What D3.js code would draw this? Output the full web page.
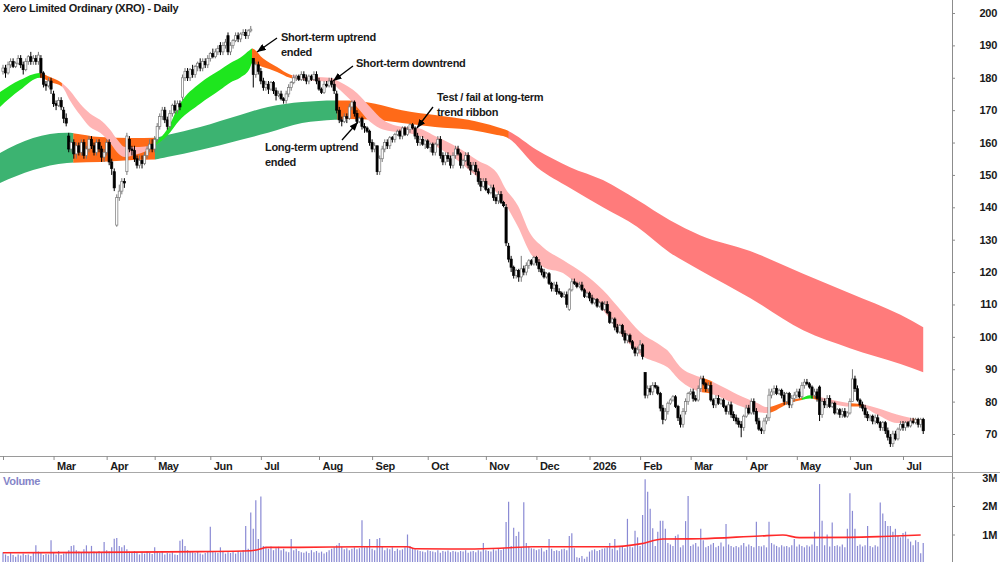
<!DOCTYPE html>
<html><head><meta charset="utf-8">
<script src="https://cdn.jsdelivr.net/npm/d3@7"></script>
<style>html,body{margin:0;padding:0;background:#fff;}svg text{font-family:"Liberation Sans",Arial,sans-serif;font-weight:bold;letter-spacing:-0.3px;}</style>
</head><body><svg id="chart" width="1000" height="562"></svg>
<script>
const title = "Xero Limited Ordinary (XRO) - Daily";
const monthLabels = ["","Mar","Apr","May","Jun","Jul","Aug","Sep","Oct","Nov","Dec","2026","Feb","Mar","Apr","May","Jun","Jul"];
const monthStart = [0,20,41,60,82,102,125,146,168,191,211,232,252,272,294,314,335,356];
const priceTicks = [70,80,90,100,110,120,130,140,150,160,170,180,190,200];
const volumeTicks = [1,2,3];
const volumeTickLabels = ["1M","2M","3M"];

const open = [
182,183,181.5,184,185,183.5,184.5,186,184,182.5,185,186.5,185,186,185,186,181.5,178,177.5,179,
175,172,171.5,173,170,167.5,162,158,160,156.5,159,157,160,156,158,161,159,157,160,158,
155.5,157,160,154,151,134.5,143,145,148,151,161,158,157.5,155,153,154.5,153.5,156,158,159.5,
158,161,165,168,170,167,165,169,171.5,170,172,174,180,182,180,182.5,181,183.5,184.5,183,
185,184,186,187.5,186.5,188,190,188,190,193,188,190,191.5,193,192,193.5,194,193,194.5,186,
181,184,182,179,177,178,176.5,178.5,176,174.5,175,173.5,173,175,177,178.5,180,180.5,179.5,181,
180,179,180.5,179.5,181,179,176.5,175.5,178,177.5,179,178,175,170,167,166.5,168,167.5,171,172.5,
169,166.5,167.5,165,164.5,163.5,160,158,159,151,155,158,160,159,161.5,161,162.5,163.5,162,164.5,
162.5,164,165.5,164.5,162,160,161,159.5,160.5,158.5,159.5,157,159.5,161,156,154,156,155,153,156,
158,156.5,153,154.5,156,153,151.5,153,151,148,146.5,148,145.5,144.5,146,143,142,144,141.5,140,
128,124,121.5,119,120.5,118.5,121,120,122,123.5,122.5,124.5,123,121,120,118.5,119.5,116.5,115,116,
114,113.5,112.5,113,108.5,114.5,117,116.5,115.5,116,114.5,112.5,113.5,112,110.5,111.5,109.5,110.5,108.5,110,
107.5,104.5,105.5,103,101.5,103.5,101,99,100.5,98.5,96.5,95,96,97.5,89,82,84,83,85,84.5,
82.5,78,74.5,77,79.5,80.5,81.5,78.5,75,73,77,80,82.5,83,81,80.5,84,87,85.5,84,
85,80.5,79,81,79.5,80.5,78.5,77,79,76,75,74,73,72,75.5,78,76.5,80,77,74,
71.5,71,74,75,82,83,84,82.5,83.5,82,80,82.5,79,81,82,83,81.5,85,86,85.5,
84.5,82,83,84.5,76,80,79,81,78.5,79.5,76.5,77.5,76,77,75.5,76.5,80,87,84,80.5,
79,78,76,75,75.5,74,75,73.5,72,73.5,71,69,67,70,68.5,71.5,73,72,73.5,72.5,
74,73.5,74.5,73,74.5];
const high = [
184,184,185,186,186,185,187,187,185,186,187,188,187,187,188,187,182,179,180,180,
176,173,174,174,171,169,163,161,161,160,160,161,161,159,162,162,160,161,161,159,
158,161,161,155,152,144,147,149,149,163,162,159,159,156,156,156,157,159,161,161,
162,166,169,171,171,168,170,172,173,173,173,181,183,183,183,184,184,185,186,186,
186,187,188,189,189,190,191,191,192,194,191,192,194,194,194,195,195,195,196,186,
185,185,183,180,179,179,179,179,177,176,176,174,176,178,179,181,181,181,182,182,
181,181,181,182,182,180,177,179,179,180,180,179,176,171,168,169,169,172,173,173,
170,168,168,166,165,164,161,160,159,156,159,161,161,162,162,163,164,164,165,165,
165,166,166,165,163,162,162,161,161,160,160,160,162,162,157,157,157,156,157,159,
159,157,155,157,157,154,154,154,152,149,149,149,146,147,147,144,145,145,142,141,
129,125,122,121,121,125,122,123,124,124,125,125,124,122,121,120,120,117,117,117,
115,114,114,114,115,118,118,117,117,117,115,114,114,113,112,112,111,111,111,111,
108,106,106,104,104,104,102,101,101,99,97,97,99,98,89,85,85,86,86,85,
83,79,78,80,81,82,82,79,76,78,81,83,84,84,82,85,88,88,86,86,
86,81,82,82,81,81,79,80,80,77,76,75,74,76,79,79,81,81,78,75,
72,75,76,84,84,85,85,84,84,83,83,83,82,83,84,84,86,87,87,86,
85,84,84,85,81,81,82,82,80,80,78,78,78,78,77,81,90,88,85,81,
80,79,77,76,76,76,76,74,74,74,72,70,71,71,72,74,74,74,74,75,
75,75,75,75,75];
const low = [
181,180,181,183,183,183,184,183,181,182,184,184,184,184,184,180,177,176,177,175,
171,170,171,170,166,165,157,157,155,155,156,156,155,155,157,158,156,156,157,154,
154,156,153,150,145,134,142,144,146,150,157,156,154,152,152,152,153,155,157,157,
157,160,164,167,166,164,164,168,169,169,170,173,179,179,179,180,180,182,182,182,
183,183,185,186,186,187,187,187,189,187,187,189,191,191,191,193,192,192,194,177,
180,181,178,176,176,175,176,175,173,174,173,172,172,174,176,178,179,179,179,179,
178,178,179,179,178,176,175,175,177,177,177,175,169,166,165,166,166,167,170,168,
166,166,164,163,163,159,157,157,150,150,154,157,158,158,160,160,162,161,161,162,
162,163,164,161,159,159,159,158,158,157,156,156,159,155,153,153,154,152,152,155,
156,152,152,154,152,150,151,150,147,145,146,145,144,144,142,141,141,141,140,128,
123,120,118,118,117,117,119,119,121,122,122,122,120,119,118,118,116,114,114,113,
113,112,112,109,108,114,116,115,115,114,112,112,111,110,110,109,109,108,108,107,
104,104,102,101,101,100,98,98,98,96,94,94,95,93,81,81,82,82,84,82,
77,73,74,76,79,80,78,74,72,72,76,79,82,80,80,80,83,85,83,83,
80,78,78,79,79,78,76,76,75,74,73,72,69,71,75,76,76,76,73,71,
70,70,73,74,81,82,82,82,81,79,79,78,78,80,81,81,81,84,85,84,
81,81,80,74,75,78,78,78,78,76,76,75,75,75,75,76,80,83,80,78,
77,75,74,74,73,73,73,71,71,70,68,66,66,68,68,71,71,71,72,72,
73,73,72,72,70];
const close = [
183,181.5,184,185,183.5,184.5,186,184,182.5,185,186.5,185,186,185,187,181.5,178,177.5,179,176.5,
172,171.5,173,171,167.5,166,158,160,156.5,159,157,160,156,158,161,159,157,160,158,155.5,
157,160,154,152,146,143,145,148,147.5,162,158,157.5,155,153,154.5,153.5,156,158,159.5,158,
161,165,168,170,167,165,169,171.5,170,172,171,180,182,180,182.5,181,183.5,184.5,183,185,
184,186,187.5,186.5,188,189,188,190,191,188,190,191.5,193,192,193.5,194,193,194.5,195,181,
184,182,179,177,178,176.5,178.5,176,174.5,175,173.5,173,175,177,178.5,180,180.5,179.5,181,180,
179,180.5,179.5,181,179,176.5,175.5,178,177.5,179,178,176,170,167,166.5,168,167.5,171,172.5,169,
166.5,167.5,165,164.5,163.5,160,158,159,151,155,158,160,159,161.5,161,162.5,163.5,162,164.5,162.5,
164,165.5,164.5,162,160,161,159.5,160.5,158.5,159.5,157,159.5,161,156,154,156,155,153,156,158,
156.5,153,154.5,156,153,151.5,153,151,148,146.5,148,145.5,144.5,146,143,142,144,141.5,140.5,129,
124,121.5,119,120.5,118.5,121,120,122,123.5,122.5,124.5,123,121,120,118.5,119.5,116.5,115,116,114,
113.5,112.5,113,110,114.5,117,116.5,115.5,116,114.5,112.5,113.5,112,110.5,111.5,109.5,110.5,108.5,110,107.5,
104.5,105.5,103,101.5,103.5,101,99,100.5,98.5,96.5,95,96,97.5,94,82,84,83,85,84.5,82.5,
78,74.5,77,79.5,80.5,81.5,78.5,75,73,77,80,82.5,83,81,80.5,84,87,85.5,84,85,
80.5,79,81,79.5,80.5,78.5,77,79,76,75,74,73,72,75.5,78,76.5,80,77,74,71.5,
71,74,75,82,83,84,82.5,83.5,82,80,82.5,79,81,82,83,81.5,85,86,85.5,84.5,
82,83,81,76,80,79,81,78.5,79.5,76.5,77.5,76,77,75.5,76.5,80,87,84,80.5,79,
78,76,75,75.5,74,75,73.5,72,73.5,71,69,67,70,68.5,71.5,73,72,73.5,72.5,74,
73.5,74.5,73,74.5,71];
// volume in hundredths of a million shares
const volume = [
38,30,25,35,28,22,30,26,33,28,30,25,35,62,40,36,28,32,30,80,
35,30,42,28,33,38,45,60,62,45,40,35,48,62,38,60,40,35,42,38,
74,45,40,55,85,88,60,55,62,48,40,35,42,38,30,36,33,40,35,32,
55,40,36,42,30,35,33,38,30,28,78,83,60,45,40,38,35,42,33,30,
35,40,127,42,38,36,55,40,33,38,35,40,33,42,38,45,130,50,177,120,
220,84,233,60,55,50,58,45,52,57,45,50,40,38,84,45,50,42,38,36,
40,35,45,38,42,36,40,33,38,45,50,55,62,70,57,48,52,45,50,55,
48,52,150,55,60,84,50,45,84,88,60,45,52,48,55,42,50,45,48,55,
100,60,52,48,45,42,40,38,45,42,40,38,45,36,42,40,44,38,42,40,
38,42,40,45,36,40,42,38,45,40,70,45,42,40,48,44,50,46,52,144,
215,60,124,95,110,55,213,70,58,52,50,45,48,52,40,46,84,50,42,45,
42,48,50,45,95,104,52,20,18,25,15,22,40,45,48,42,46,50,52,55,
70,50,84,45,55,60,52,155,58,55,113,90,60,168,294,250,190,122,60,110,
148,148,120,70,65,60,95,100,55,62,147,235,60,65,70,58,120,80,55,60,
65,70,55,60,72,58,137,65,60,55,60,55,62,70,58,65,60,55,145,60,
58,62,55,145,70,65,60,55,62,58,60,55,62,84,58,65,60,55,62,58,
65,110,60,277,148,62,100,58,142,60,62,58,65,55,120,245,183,120,60,65,
58,62,130,60,55,62,58,212,174,147,130,130,110,120,95,90,105,110,85,75,
62,80,74,34,70];
// volume moving average: [day index, millions]
const volumeAvg = [[0,0.36],[51,0.38],[78,0.4],[98,0.43],[102,0.5],[104,0.55],[117,0.55],[141,0.57],[160,0.57],[163,0.5],[177,0.49],[196.6,0.52],[209.6,0.57],[240,0.57],[252,0.67],[261,0.84],[275.7,0.85],[299.4,0.95],[308.5,0.98],[315,0.89],[335,0.9],[348,0.93],[363,0.98]];
// short-term trend ribbon: [day index, upper, lower]
const shortRibbon = [[-1.2,175.6,171],[6.7,179.3,176.2],[14.6,181.5,180],[18.6,180.2,178.7],[23.3,178.4,177.3],[26.5,176,173],[30.5,172,168.5],[34.4,169,164.8],[38.4,167,163],[42.3,164,160],[45.1,161,157],[48.3,158.6,155.5],[51.4,158.6,156],[56.2,158.8,157.2],[60.1,160,159],[64.9,164,162],[70,172,167],[78,178.4,172],[85.8,182.4,176.2],[89.8,184.5,178.5],[93.8,186.2,180],[97.7,188.6,183],[98.5,189,184.5],[102.8,186,183.3],[108.4,183.3,181.8],[113.5,181,180],[117.5,180.5,179.5],[129.4,180,178.7],[133.3,178.7,176.2],[140,175.3,171],[145.2,171,166.4],[150.3,167,164],[158.2,164.8,163],[163.8,164.5,162.3],[171.7,161.7,158.6],[179.6,158.6,154.6],[187.5,154.6,149.4],[195.4,150.6,144.4],[198.6,146,141],[203.7,140.5,134],[208.5,132,126],[213.6,127.7,121.6],[221.5,123.7,119.7],[229.4,119.7,114.5],[237.3,114.5,108.3],[245.3,107.4,100],[252,101.5,94.5],[259.9,97.5,91.8],[262.7,95.9,90.7],[267.8,90.8,86.5],[275.7,87.6,83],[279.7,86.5,82.5],[284.8,84.5,81],[292.7,81.4,78.3],[298.3,79.6,76.8],[302.2,78.3,76.5],[311.3,80.5,79.6],[316,81.2,80.5],[319.2,82,81],[323.2,81.4,80.3],[335,79.5,78.5],[339,79.3,78.5],[345.7,78,76],[353.6,76,73.4],[358.8,75,73.4],[364,74.3,73.4]];
// short-term trend state by day range: [from, to, state]
const shortTrend = [[-1.2,14.6,"up"],[14.6,23.3,"flat"],[23.3,60.1,"down"],[60.1,98.5,"up"],[98.5,114.3,"flat"],[114.3,276.5,"down"],[276.5,280.5,"flat"],[280.5,302.6,"down"],[302.6,316,"flat"],[316,320.4,"up"],[320.4,323.2,"flat"],[323.2,335,"down"],[335,340.2,"flat"],[340.2,360,"down"],[360,364.5,"flat"]];
// long-term trend ribbon: [day index, upper, lower]
const longRibbon = [[-1.2,156.8,147.5],[11.9,161.4,151.5],[25.3,163,153.7],[38.4,161.7,154],[51.4,161.4,154.6],[60.1,161.5,154.8],[64.9,162.3,155.5],[78,164.8,157.7],[93.8,168.5,160.8],[104.8,171,163],[118.3,172.5,166],[131.3,173,167],[136.5,173,167.3],[147.2,172,167],[157.8,170,166],[170.9,168.5,164.8],[184,167,164],[195.4,164.8,162.3],[198.6,164,161.8],[211.2,157.7,152.4],[224.3,152.4,146],[237.3,148.4,140],[250.8,142.3,134],[263.8,136,126],[275.7,131.4,120.6],[295.5,126.5,112],[316.5,119.5,102],[335,113.5,96.5],[355,106.8,91.6],[364,103,89.1]];
const longTrend = [[-1.2,27.8,"up"],[27.8,60.1,"flat"],[60.1,132.3,"up"],[132.3,200,"flat"],[200,364.5,"down"]];
const annotations = [
  {lines:["Short-term uptrend","ended"], tx:281, ty:41, from:[277,38], to:[257,52]},
  {lines:["Short-term downtrend"], tx:356, ty:67, from:[353,66], to:[333,81]},
  {lines:["Test / fail at long-term","trend ribbon"], tx:437, ty:101, from:[433,107], to:[417,128]},
  {lines:["Long-term uptrend","ended"], tx:265, ty:151, from:[342,140], to:[358,122]}
];

const svg = d3.select("#chart");
svg.append("rect").attr("width",1000).attr("height",562).attr("fill","#fff");
const defs = svg.append("defs");
const PR = 952, PB = 456;
const x = d3.scaleLinear().domain([0,356]).range([3,903]);
const y = d3.scaleLinear().domain([70,200]).range([434,13]);
const yv = d3.scaleLinear().domain([0,3]).range([563,477.5]);

defs.append("clipPath").attr("id","pclip").append("rect").attr("x",0).attr("y",0).attr("width",PR).attr("height",PB);
defs.append("clipPath").attr("id","vclip").append("rect").attr("x",0).attr("y",473).attr("width",PR).attr("height",90);

const plot = svg.append("g").attr("clip-path","url(#pclip)");
const shortColors = {up:"#1ee61e", flat:"#ff6a18", down:"#ffb4b4"};
const longColors = {up:"#3cb371", flat:"#ff6a18", down:"#ff7b7b"};
let cid = 0;
function ribbon(samples, trend, colors){
  const area = d3.area().x(d=>x(d[0])).y0(d=>y(d[2])).y1(d=>y(d[1])).curve(d3.curveMonotoneX);
  const dstr = area(samples);
  trend.forEach(s=>{
    const id = "rc"+(cid++);
    defs.append("clipPath").attr("id",id).append("rect")
      .attr("x",x(s[0])).attr("y",0).attr("width",x(s[1])-x(s[0])+0.3).attr("height",PB);
    plot.append("path").attr("d",dstr).attr("fill",colors[s[2]]).attr("clip-path",`url(#${id})`);
  });
}
ribbon(longRibbon, longTrend, longColors);
ribbon(shortRibbon, shortTrend, shortColors);

// candles
const idx = d3.range(close.length);
const cg = plot.append("g");
cg.selectAll("line.w").data(idx).join("line")
  .attr("x1",i=>x(i)).attr("x2",i=>x(i)).attr("y1",i=>y(high[i])).attr("y2",i=>y(low[i]))
  .attr("stroke",i=>close[i]>=open[i]?"#777":"#000").attr("stroke-width",1);
cg.selectAll("rect.b").data(idx).join("rect")
  .attr("x",i=>x(i)-1.1).attr("width",2.2)
  .attr("y",i=>y(Math.max(open[i],close[i])))
  .attr("height",i=>Math.max(0.8,Math.abs(y(open[i])-y(close[i]))))
  .attr("fill",i=>close[i]>=open[i]?"#fff":"#000")
  .attr("stroke",i=>close[i]>=open[i]?"#777":"#000").attr("stroke-width",0.7);

// volume
const vg = svg.append("g").attr("clip-path","url(#vclip)");
vg.selectAll("line").data(idx).join("line")
  .attr("x1",i=>x(i)).attr("x2",i=>x(i)).attr("y1",yv(0)).attr("y2",i=>yv(volume[i]/100))
  .attr("stroke","#8a8ad4").attr("stroke-width",1.2);
vg.append("path").datum(volumeAvg)
  .attr("d",d3.line().x(d=>x(d[0])).y(d=>yv(d[1])).curve(d3.curveMonotoneX))
  .attr("fill","none").attr("stroke","#ff2a2a").attr("stroke-width",1.6);

// frame lines
svg.append("line").attr("x1",PR+0.5).attr("x2",PR+0.5).attr("y1",0).attr("y2",562).attr("stroke","#8c8c8c");
svg.append("line").attr("x1",0).attr("x2",PR).attr("y1",PB+0.5).attr("y2",PB+0.5).attr("stroke","#9a9a9a");
svg.append("line").attr("x1",0).attr("x2",1000).attr("y1",472.5).attr("y2",472.5).attr("stroke","#a8a8a8");

// month axis
const mAxis = d3.axisBottom(x).tickValues(monthStart).tickFormat((d,i)=>monthLabels[i]).tickSize(4).tickPadding(2);
const mg = svg.append("g").attr("transform",`translate(0,${PB})`).call(mAxis);
mg.select(".domain").remove();
mg.selectAll(".tick line").attr("stroke","#8c8c8c");
mg.selectAll(".tick text").attr("text-anchor","start").attr("x",3).attr("y",4).attr("dy","0.95em")
  .attr("font-size",11).attr("fill","#1a1a1a");

// price axis
const pAxis = d3.axisRight(y).tickValues(priceTicks).tickSize(3).tickFormat(d3.format("d"));
const pg = svg.append("g").attr("transform",`translate(${PR},0)`).call(pAxis);
pg.select(".domain").remove();
pg.selectAll(".tick line").attr("stroke","#8c8c8c");
pg.selectAll(".tick text").attr("text-anchor","end").attr("x",45).attr("font-size",11).attr("fill","#1a1a1a");

// volume axis
const vAxis = d3.axisRight(yv).tickValues(volumeTicks).tickSize(3).tickFormat((d,i)=>volumeTickLabels[i]);
const vag = svg.append("g").attr("transform",`translate(${PR},0)`).call(vAxis);
vag.select(".domain").remove();
vag.selectAll(".tick line").attr("stroke","#8c8c8c");
vag.selectAll(".tick text").attr("text-anchor","end").attr("x",45).attr("font-size",11).attr("fill","#1a1a1a");

// titles
svg.append("text").attr("x",3).attr("y",12).attr("font-size",11).attr("fill","#1a1a1a").text(title);
svg.append("text").attr("x",3).attr("y",485).attr("font-size",11).attr("fill","#8585c8").text("Volume");

// annotations
defs.append("marker").attr("id","ah").attr("viewBox","0 0 10 8").attr("refX",10).attr("refY",4)
  .attr("markerWidth",9).attr("markerHeight",7).attr("markerUnits","userSpaceOnUse").attr("orient","auto")
  .append("path").attr("d","M0,0L10,4L0,8Z").attr("fill","#000");
const ag = svg.append("g");
annotations.forEach(a=>{
  a.lines.forEach((t,k)=>ag.append("text").attr("x",a.tx).attr("y",a.ty+k*15).attr("font-size",11).attr("fill","#1a1a1a").text(t));
  ag.append("line").attr("x1",a.from[0]).attr("y1",a.from[1]).attr("x2",a.to[0]).attr("y2",a.to[1])
    .attr("stroke","#000").attr("stroke-width",1.3).attr("marker-end","url(#ah)");
});
</script></body></html>
